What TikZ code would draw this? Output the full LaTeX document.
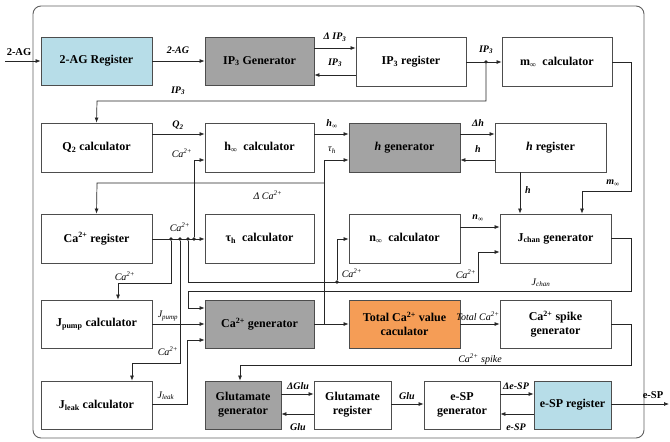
\documentclass[tikz,border=0pt]{standalone}
\usepackage{fontspec}
\setmainfont{Liberation Serif}
\usetikzlibrary{arrows.meta}
\definecolor{boxblue}{HTML}{B7DDE8}
\definecolor{boxgray}{HTML}{A3A3A3}
\definecolor{boxorange}{HTML}{F59D56}
\definecolor{edgecol}{HTML}{4D4D4D}
\definecolor{wirecol}{HTML}{262626}
\begin{document}
\begin{tikzpicture}[x=1pt,y=-1pt,
  blk/.style={draw=edgecol, line width=0.8pt, align=center, inner sep=0pt,
    font=\fontsize{12}{14}\selectfont\bfseries, minimum width=110pt, minimum height=49pt, fill=white},
  small/.style={minimum width=76pt, minimum height=48pt},
  bluebox/.style={fill=boxblue},
  graybox/.style={fill=boxgray},
  orangebox/.style={fill=boxorange},
  wire/.style={draw=wirecol, line width=0.7pt},
  arr/.style={wire, -{Latex[length=5pt,width=4pt]}},
  lbl/.style={font=\fontsize{10}{11}\selectfont\bfseries\itshape, inner sep=0pt},
  llbl/.style={font=\fontsize{10}{11}\selectfont\itshape, inner sep=0pt},
  iolbl/.style={font=\fontsize{10.5}{11}\selectfont\bfseries, inner sep=0pt},
  dot/.style={circle, fill=wirecol, inner sep=0pt, minimum size=3.6pt},
  frame/.style={draw=edgecol!90, line width=0.9pt, rounded corners=8pt}
]
\useasboundingbox (0,0) rectangle (670,442);
\draw[frame] (33,6) rectangle (644,438);

% ---- boxes ----
\node[blk,bluebox,minimum width=111pt,minimum height=48pt] (reg2ag) at (96.5,61) {2-AG Register};
\node[blk,graybox,minimum width=109pt,minimum height=48pt] (ipgen) at (259.5,61) {IP\textsubscript{3} Generator};
\node[blk] (ipreg) at (411,62) {IP\textsubscript{3} register};
\node[blk] (mcalc) at (557,62) {m\textsubscript{∞}\ \ calculator};

\node[blk,minimum width=111pt] (q2) at (96.5,147.5) {Q\textsubscript{2} calculator};
\node[blk,minimum width=109pt] (hinf) at (259.5,147.5) {h\textsubscript{∞}\ \ calculator};
\node[blk,graybox,minimum width=111pt] (hgen) at (404.5,147.5) {\textit{h} generator};
\node[blk,minimum width=111pt] (hreg) at (550.5,147.5) {\textit{h} register};

\node[blk,minimum width=111pt] (careg) at (96.5,238.5) {Ca\textsuperscript{2+} register};
\node[blk,minimum width=109pt] (tau) at (259.5,238.5) {τ\textsubscript{h}\ \ calculator};
\node[blk,minimum width=111pt] (ninf) at (404.5,238.5) {n\textsubscript{∞}\ \ calculator};
\node[blk,minimum width=111pt] (jchan) at (555.5,238.5) {J\textsubscript{chan} generator};

\node[blk,minimum width=111pt,minimum height=48pt] (jpump) at (96.5,324) {J\textsubscript{pump} calculator};
\node[blk,graybox,minimum width=109pt,minimum height=48pt] (cagen) at (259.5,324) {Ca\textsuperscript{2+} generator};
\node[blk,orangebox,minimum width=111pt,minimum height=48pt] (total) at (404.5,324) {Total Ca\textsuperscript{2+} value\\caculator};
\node[blk,minimum width=111pt,minimum height=48pt] (spike) at (555.5,324) {Ca\textsuperscript{2+} spike\\generator};

\node[blk,minimum width=111pt,minimum height=48pt] (jleak) at (96.5,405) {J\textsubscript{leak} calculator};
\node[blk,small,graybox] (glugen) at (243,405) {Glutamate\\generator};
\node[blk,small,minimum width=77pt] (glureg) at (352.5,405) {Glutamate\\register};
\node[blk,small] (espgen) at (462,405) {e-SP\\generator};
\node[blk,small,bluebox,minimum width=77pt] (espreg) at (572.5,405) {e-SP register};

% ---- free ends ----
\coordinate (inp) at (5,61);
\coordinate (outp) at (669,404);

% ---- top row ----
\draw[arr] (inp) -- (reg2ag.west);
\node[iolbl] (l2agin) at (19,52) {2-AG};
\draw[arr] (reg2ag.east) -- (ipgen.west);
\node[lbl] (l2ag) at (178,50) {2-AG};
\draw[arr] (ipgen.east |- 0,48) -- (ipreg.west |- 0,48);
\node[lbl] (ldip) at (335,37) {Δ IP\textsubscript{3}};
\draw[arr] (ipreg.west |- 0,75) -- (ipgen.east |- 0,75);
\node[lbl] (lip) at (335,63) {IP\textsubscript{3}};
\node[dot] (dip) at (486,62) {};
\draw[arr] (ipreg.east |- 0,62) -- (mcalc.west |- 0,62);
\node[lbl] (lip2) at (486,50) {IP\textsubscript{3}};
\draw[arr] (dip) -- (486,101) -- (97,101) -- (q2.north);
\node[lbl] (lip3) at (178,91) {IP\textsubscript{3}};
\draw[arr] (mcalc.east) -- (631,62) -- (631,191) -- (582,191) -- (jchan.north -| 582,0);
\node[lbl] (lminf) at (613,183) {m\textsubscript{∞}};

% ---- second row ----
\draw[arr] (q2.east |- 0,134) -- (hinf.west |- 0,134);
\node[lbl] (lq2) at (178,125) {Q\textsubscript{2}};
\draw[arr] (hinf.east |- 0,134) -- (hgen.west |- 0,134);
\node[lbl] (lhinf) at (332,124) {h\textsubscript{∞}};
\draw[arr] (hgen.east |- 0,134) -- (hreg.west |- 0,134);
\node[lbl] (ldh) at (478,123) {Δh};
\draw[arr] (hreg.west |- 0,160) -- (hgen.east |- 0,160);
\node[lbl] (lh) at (478,149) {h};
\draw[arr] (hreg.south -| 520,0) -- (jchan.north -| 520,0);
\node[lbl] (lh2) at (528,190) {h};

% ---- Ca2+ bus ----
\draw[arr] (careg.east |- 0,239) -- (tau.west |- 0,239);
\node[llbl] (lcabus) at (180,227) {Ca\textsuperscript{2+}};
\node[dot] (d1) at (171,239) {};
\node[dot] (d2) at (180,239) {};
\node[dot] (d3) at (188,239) {};
\node[dot] (d4) at (194,239) {};
\draw[arr] (d4) -- (194,160) -- (hinf.west |- 0,160);
\node[llbl] (lcah) at (182,153) {Ca\textsuperscript{2+}};
\draw[arr] (d1) -- (171,283) -- (118,283) -- (jpump.north -| 118,0);
\node[llbl] (lcap) at (125,276) {Ca\textsuperscript{2+}};
\draw[arr] (d2) -- (180,363) -- (132,363) -- (jleak.north -| 132,0);
\node[llbl] (lcal) at (168,351) {Ca\textsuperscript{2+}};
\node[dot] (d5) at (337,282) {};
\draw[arr] (d3) -- (188,282) -- (478,282) -- (478,252) -- (jchan.west |- 0,252);
\draw[arr] (d5) -- (337,239) -- (ninf.west |- 0,239);
\node[llbl] (lcan) at (352,273) {Ca\textsuperscript{2+}};
\node[llbl] (lcaj) at (466,274) {Ca\textsuperscript{2+}};
\draw[arr] (ninf.east |- 0,227) -- (jchan.west |- 0,227);
\node[lbl] (lninf) at (478,218) {n\textsubscript{∞}};

% ---- tau / delta Ca ----
\draw[arr] (cagen.east) -- (total.west);
\draw[arr] (324,324) -- (324,160) -- (hgen.west |- 0,160);
\node[llbl] (ltau) at (332,150) {τ\textsubscript{h}};
\draw[arr] (324,183) -- (97,183) -- (careg.north);
\node[llbl] (ldca) at (268,195) {Δ Ca\textsuperscript{2+}};

% ---- J currents ----
\draw[arr] (jchan.east) -- (631,238.5) -- (631,291) -- (188,291) -- (188,308) -- (cagen.west |- 0,308);
\node[llbl] (ljchan) at (541,283) {J\textsubscript{chan}};
\draw[arr] (jpump.east) -- (cagen.west);
\node[llbl] (ljpump) at (168,316) {J\textsubscript{pump}};
\draw[arr] (jleak.east |- 0,404) -- (187,404) -- (187,340) -- (cagen.west |- 0,340);
\node[llbl] (ljleak) at (166,396) {J\textsubscript{leak}};

% ---- total / spike ----
\draw[arr] (total.east) -- (spike.west);
\node[llbl] (ltot) at (478,316) {Total Ca\textsuperscript{2+}};
\draw[arr] (spike.east) -- (631,324) -- (631,365) -- (240,365) -- (glugen.north -| 240,0);
\node[llbl] (lspike) at (480,359) {Ca\textsuperscript{2+} spike};

% ---- bottom row ----
\draw[arr] (glugen.east |- 0,394) -- (glureg.west |- 0,394);
\node[lbl] (ldglu) at (298,386) {ΔGlu};
\draw[arr] (glureg.west |- 0,414) -- (glugen.east |- 0,414);
\node[lbl] (lglu) at (298,427) {Glu};
\draw[arr] (glureg.east |- 0,404) -- (espgen.west |- 0,404);
\node[lbl] (lglu2) at (407,396) {Glu};
\draw[arr] (espgen.east |- 0,394) -- (espreg.west |- 0,394);
\node[lbl] (ldesp) at (516,386) {Δe-SP};
\draw[arr] (espreg.west |- 0,414) -- (espgen.east |- 0,414);
\node[lbl] (lesp) at (516,427) {e-SP};
\draw[arr] (espreg.east |- 0,404) -- (outp);
\node[iolbl] (lespout) at (653,395) {e-SP};
\end{tikzpicture}
\end{document}
